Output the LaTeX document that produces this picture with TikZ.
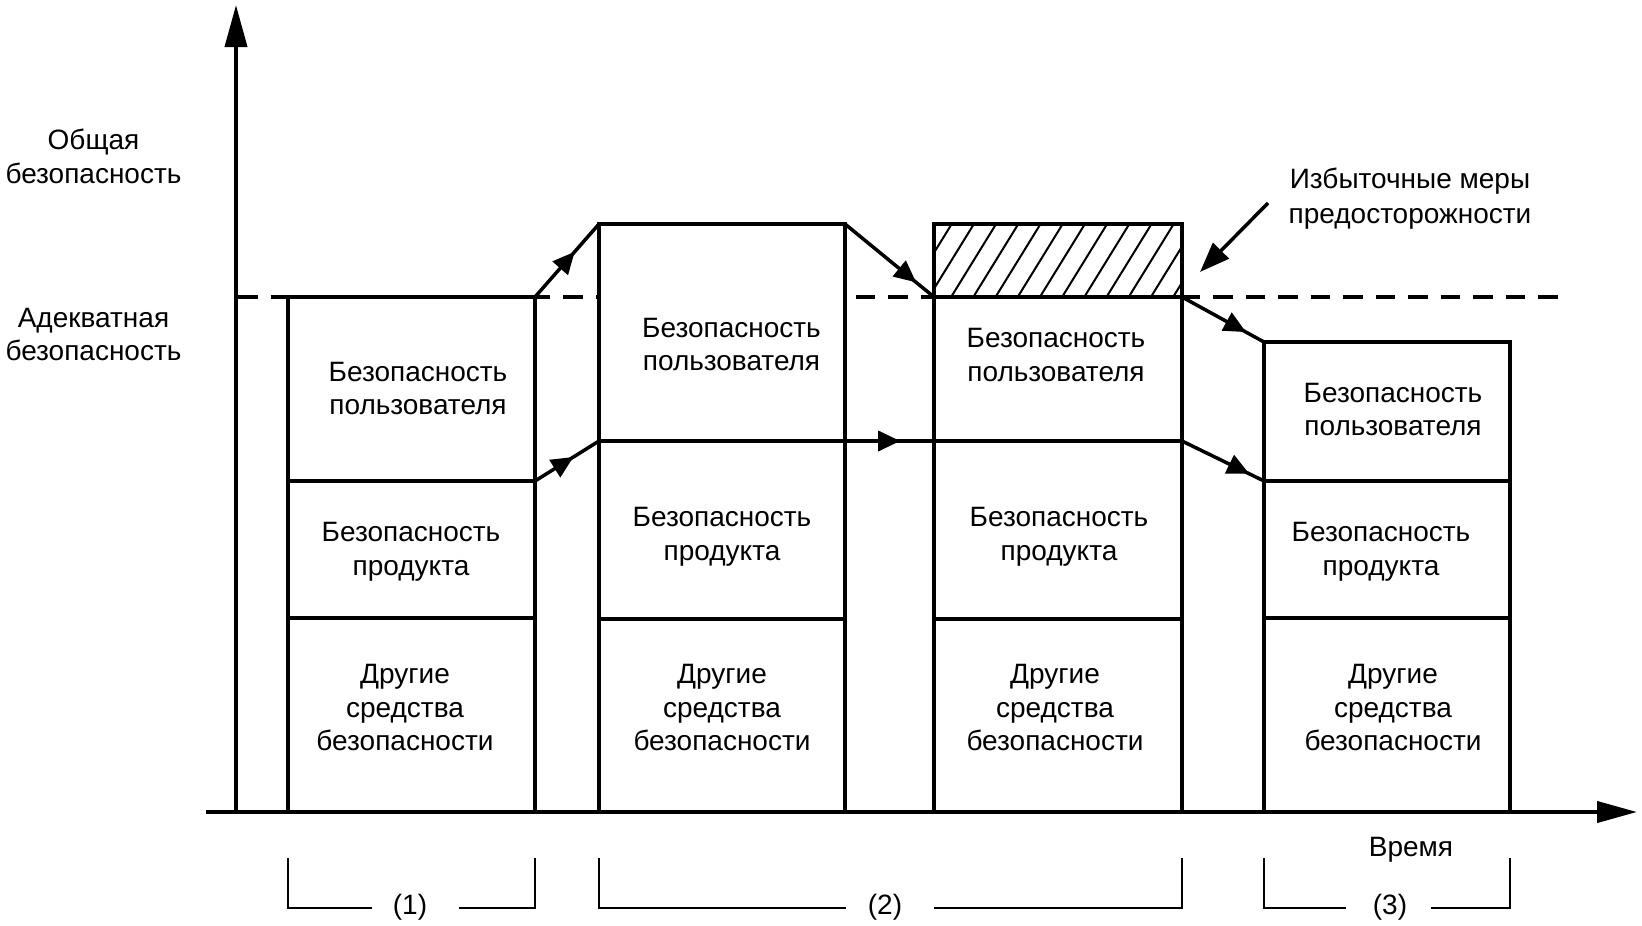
\documentclass[tikz,border=0pt]{standalone}
\usepackage{fontspec}
\setmainfont{Liberation Sans}
\usetikzlibrary{arrows.meta,decorations.markings}
\begin{document}
\begin{tikzpicture}[x=1pt,y=-1pt,
  seg/.style={draw, fill=white, line width=4pt, inner sep=0pt, outer sep=0pt},
  txt/.style={font=\fontsize{28}{33.5}\selectfont, align=center, inner sep=0pt},
  conn/.style={line width=3.5pt},
  midarrow/.style={postaction={decorate},decoration={markings,
      mark=at position #1 with {\arrow{Triangle[length=22pt,width=20pt]}}}},
  axis/.style={line width=4pt},
  brk/.style={line width=2.2pt},
  adequate/.style={line width=3.5pt, dash pattern=on 19.5pt off 13pt}]
\useasboundingbox (0,0) rectangle (1642,926);

% adequate level (dashed)
\coordinate (dl) at (238,297);
\coordinate (dr) at (1557.5,297);
\draw[adequate] (dl) -- (dr);

% box 1
\node[seg, minimum width=247, minimum height=184] (b1a) at (411.5,389) {};
\node[seg, minimum width=247, minimum height=137] (b1b) at (411.5,549.5) {};
\node[seg, minimum width=247, minimum height=194] (b1c) at (411.5,715) {};
% box 2
\node[seg, minimum width=246, minimum height=217] (b2a) at (722,332.5) {};
\node[seg, minimum width=246, minimum height=178] (b2b) at (722,530) {};
\node[seg, minimum width=246, minimum height=193] (b2c) at (722,715.5) {};
% box 3
\node[seg, minimum width=248, minimum height=73] (b3h) at (1058,260.5) {};
\begin{scope}
  \clip ([shift={(2pt,-2pt)}]b3h.north west) rectangle ([shift={(-2pt,2pt)}]b3h.south east);
  \foreach \k in {-1,...,12}{
    \draw[line width=2pt] ({906.7+22.2*\k-45},370) -- ({906.7+22.2*\k+90},151);
  }
\end{scope}
\node[seg, minimum width=248, minimum height=144] (b3a) at (1058,369) {};
\node[seg, minimum width=248, minimum height=178] (b3b) at (1058,530) {};
\node[seg, minimum width=248, minimum height=193] (b3c) at (1058,715.5) {};
% box 4
\node[seg, minimum width=246, minimum height=139] (b4a) at (1387,411.5) {};
\node[seg, minimum width=246, minimum height=137] (b4b) at (1387,549.5) {};
\node[seg, minimum width=246, minimum height=194] (b4c) at (1387,715) {};

% texts in boxes
\node[txt] (t1a) at (418,388.5) {Безопасность\\пользователя};
\node[txt] (t1b) at (411,552) {Безопасность\\продукта};
\node[txt] (t1c) at (405,707.5) {Другие\\средства\\безопасности};
\node[txt] (t2a) at (731.5,344.5) {Безопасность\\пользователя};
\node[txt] (t2b) at (722,536.7) {Безопасность\\продукта};
\node[txt] (t2c) at (722,707.5) {Другие\\средства\\безопасности};
\node[txt] (t3a) at (1056,355) {Безопасность\\пользователя};
\node[txt] (t3b) at (1059,536.7) {Безопасность\\продукта};
\node[txt] (t3c) at (1055,707.5) {Другие\\средства\\безопасности};
\node[txt] (t4a) at (1393,409.5) {Безопасность\\пользователя};
\node[txt] (t4b) at (1381,552) {Безопасность\\продукта};
\node[txt] (t4c) at (1393,707.5) {Другие\\средства\\безопасности};

% transitions
\draw[conn, midarrow=0.62] (b1a.north east) -- (b2a.north west);
\draw[conn, midarrow=0.6] (b1b.north east) -- (b2b.north west);
\draw[conn, midarrow=0.8] (b2a.north east) -- (b3a.north west);
\draw[conn, midarrow=0.62] (b2b.north east) -- (b3b.north west);
\draw[conn, midarrow=0.78] (b3a.north east) -- (b4a.north west);
\draw[conn, midarrow=0.82] (b3b.north east) -- (b4b.north west);

% axes
\coordinate (o) at (236,812);
\coordinate (ytip) at (236,5);
\coordinate (xs) at (206,812);
\coordinate (xtip) at (1637,812);
\draw[axis, -{Triangle[length=42pt,width=22pt]}] (o) -- (ytip);
\draw[axis, -{Triangle[length=40pt,width=21pt]}] (xs) -- (xtip);

% axis labels
\node[txt] (lgen) at (93.5,156.5) {Общая\\безопасность};
\node[txt] (ladq) at (93.5,334.6) {Адекватная\\безопасность};
\node[txt] (ltime) at (1411,850) {Время};

% annotation
\node[txt, font=\fontsize{28}{34.5}\selectfont] (lexc) at (1410,198.5) {Избыточные меры\\предосторожности};
\coordinate (annS) at (1268,203);
\coordinate (annE) at (1200,272);
\draw[conn, -{Triangle[length=30pt,width=22pt]}] (annS) -- (annE);

% period brackets
\node[txt] (p1) at (410,907) {(1)};
\node[txt] (p2) at (885,907) {(2)};
\node[txt] (p3) at (1390,907) {(3)};
\draw[brk] (288,858) -- (288,908) -- (372,908);
\draw[brk] (459,908) -- (535,908) -- (535,858);
\draw[brk] (599,858) -- (599,908) -- (846,908);
\draw[brk] (934,908) -- (1182,908) -- (1182,858);
\draw[brk] (1264,858) -- (1264,908) -- (1346,908);
\draw[brk] (1431,908) -- (1510,908) -- (1510,858);
\end{tikzpicture}
\end{document}
